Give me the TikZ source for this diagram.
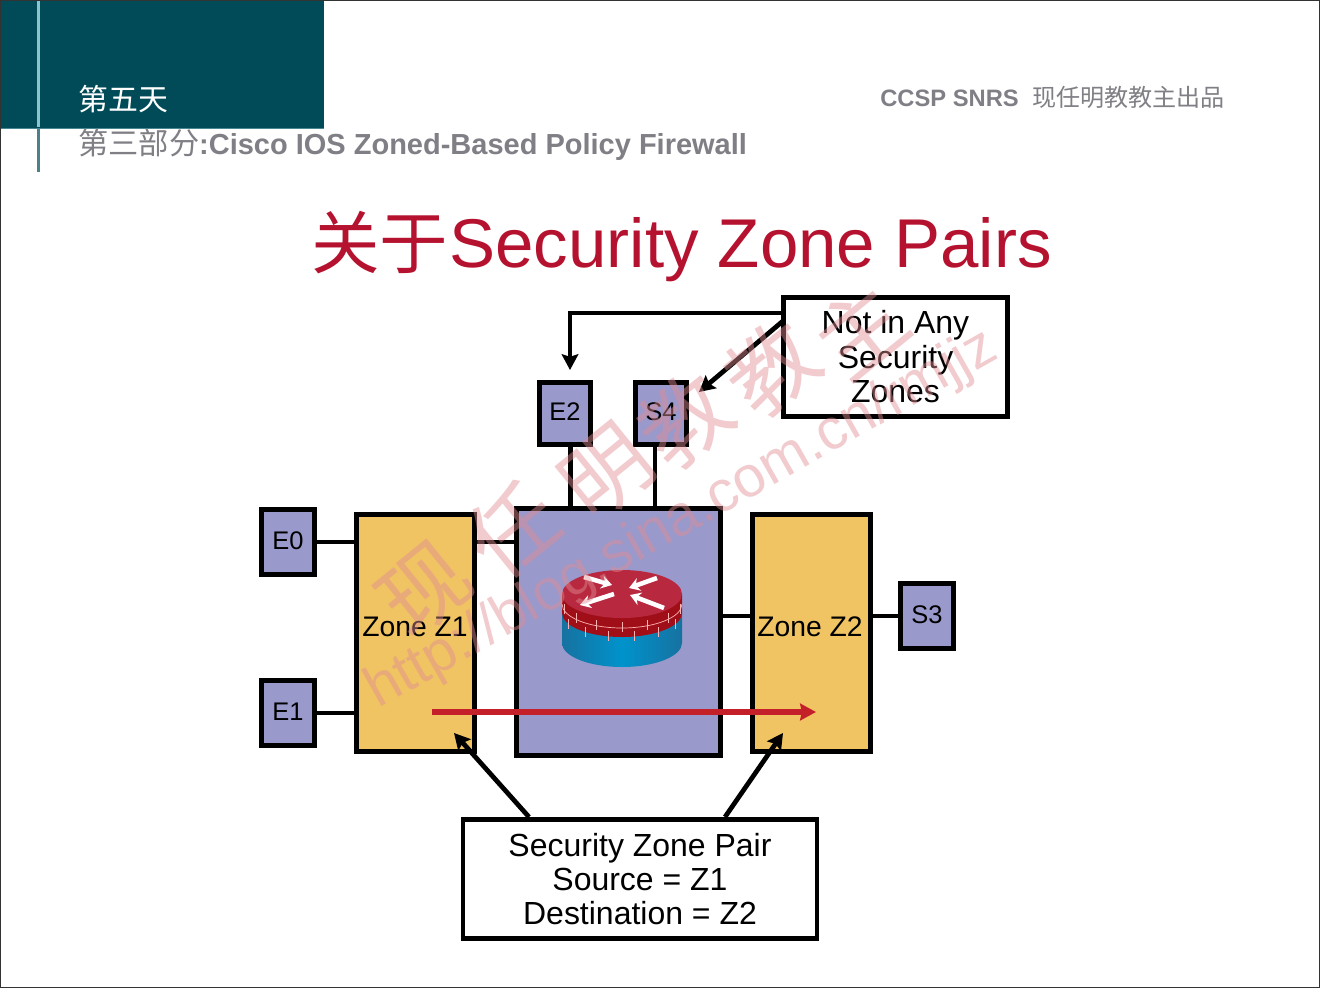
\documentclass[tikz,border=0pt]{standalone}
\usepackage{fontspec}
\setmainfont{Liberation Sans}
\newfontfamily\cjk{Noto Sans CJK SC}
\usetikzlibrary{arrows.meta,calc}
\definecolor{headteal}{HTML}{004B57}
\definecolor{headline}{HTML}{8CC4CC}
\definecolor{headgray}{HTML}{7F7F85}
\definecolor{titlered}{HTML}{B5122F}
\definecolor{portblue}{HTML}{9999CC}
\definecolor{zoneyellow}{HTML}{F0C463}
\definecolor{flowred}{HTML}{C4202A}
\definecolor{markpink}{HTML}{E08C92}
\definecolor{routertop}{HTML}{B8283F}
\definecolor{routerside}{HTML}{A00F18}
\definecolor{routerblue}{HTML}{0093CC}
\definecolor{routerdark}{HTML}{1672A0}
\tikzset{
  portbox/.style={draw=black, line width=2.8pt, fill=portblue, inner sep=0pt, text depth=2pt, font=\fontsize{14.5}{16}\selectfont},
  zonebox/.style={draw=black, line width=2.8pt, fill=zoneyellow, inner sep=0pt, minimum width=67pt, minimum height=134.5pt},
  notebox/.style={draw=black, line width=2.8pt, fill=white, inner sep=0pt, align=center, font=\fontsize{18.2}{19.6}\selectfont},
  wire/.style={line width=2.2pt},
  pointer/.style={line width=2.7pt, -{Stealth[length=9pt,width=9.5pt,inset=1.5pt]}},
  flowline/.style={flowred, line width=3pt, -{Stealth[length=9pt,width=9.5pt,inset=1pt]}},
  stampmark/.style={text=markpink, text opacity=.45, inner sep=0pt},
  stampcn/.style={stampmark, rotate=39, font=\cjk\fontsize{50}{52}\selectfont},
  brickline/.style={white!70!red, line width=.4pt},
  routerarrow/.style={white, line width=2.6pt, -{Stealth[length=6pt,width=7.5pt]}},
}
\begin{document}
\begin{tikzpicture}[x=0.02cm, y=-0.02cm]
  \useasboundingbox (0,0) rectangle (1320,988);
  \fill[white] (0,0) rectangle (1320,988);
  % header band
  \fill[headteal] (0,0) rectangle (324,128);
  \draw[headline!50!headteal, line width=.5pt] (0,128) -- (324,128);
  \draw[headline, line width=1.3pt] (38.5,0) -- (38.5,127);
  \draw[headteal!70!white, line width=1.3pt] (38.5,129) -- (38.5,172);
  \draw[black!80, line width=1.2pt] (0,0) rectangle (1320,988);
  \node[anchor=base west, inner sep=0pt, text=white, font=\cjk\fontsize{17}{19}\selectfont] (daytext) at (78,110) {第五天};
  \node[anchor=base west, inner sep=0pt, text=headgray, font=\bfseries\fontsize{16.5}{18}\selectfont] (parttext) at (78,154) {{\cjk\mdseries\fontsize{17.2}{18}\selectfont 第三部分}:Cisco IOS Zoned-Based Policy Firewall};
  \node[anchor=base west, inner sep=0pt, text=headgray, font=\bfseries\fontsize{13.5}{15}\selectfont] (brandtext) at (880,106) {CCSP SNRS};
  \node[anchor=base west, inner sep=0pt, text=headgray, font=\cjk\fontsize{13.7}{15}\selectfont] (makertext) at (1032,106) {现任明教教主出品};
  \node[anchor=base west, inner sep=0pt, text=titlered, font=\cjk\fontsize{39}{42}\selectfont] (titlecn) at (311,268) {关于};
  \node[anchor=base west, inner sep=0pt, text=titlered, font=\fontsize{39.3}{42}\selectfont] (titletext) at (449,267) {Security Zone Pairs};
  % interfaces and zones
  \node[portbox, minimum width=30pt, minimum height=37pt] (e0) at (288,542) {E0};
  \node[portbox, minimum width=30pt, minimum height=37pt] (e1) at (288,713) {E1};
  \node[portbox, minimum width=29.5pt, minimum height=35.5pt] (e2) at (565,413.5) {E2};
  \node[portbox, minimum width=29.5pt, minimum height=35.5pt] (s4) at (661,413.5) {S4};
  \node[portbox, minimum width=30pt, minimum height=37pt] (s3) at (927,616) {S3};
  \node[zonebox] (z1) at (415.5,633) {};
  \node[zonebox] (z2) at (811.5,633) {};
  \node[anchor=center, font=\fontsize{16.1}{17}\selectfont, inner sep=0pt] (z1label) at (415,627) {Zone Z1};
  \node[anchor=center, font=\fontsize{16.1}{17}\selectfont, inner sep=0pt] (z2label) at (810,627) {Zone Z2};
  \node[portbox, minimum width=116pt, minimum height=141pt] (fw) at (618.5,632) {};
  \draw[wire] (e0.east) -- (e0.east -| z1.west);
  \draw[wire] (e1.east) -- (e1.east -| z1.west);
  \draw[wire] (e0.east -| z1.east) -- (e0.east -| fw.west);
  \draw[wire] (s3.west -| fw.east) -- (s3.west -| z2.west);
  \draw[wire] (s3.west -| z2.east) -- (s3.west);
  \draw[wire, line width=2.7pt] ([xshift=3.2pt]e2.south) -- ([xshift=3.2pt]e2.south |- fw.north);
  \draw[wire, line width=2.7pt] ([xshift=-3.4pt]s4.south) -- ([xshift=-3.4pt]s4.south |- fw.north);
  % firewall router
  \shade[left color=routerdark, right color=routerdark, middle color=routerblue] (562,613) -- (562,643) arc (180:0:60 and 24) -- (682,613) -- cycle;
  \fill[routerside] (562,594) -- (562,613) arc (180:0:60 and 24) -- (682,594) -- cycle;
  \fill[routertop] (622,594) ellipse (60 and 24);
  \foreach \a in {15,40,65,90,115,140,165} {
    \draw[brickline] ($(622,598)+(\a:60 and 24)$) -- ++(0,10);
  }
  \foreach \a in {28,53,78,103,128,153} {
    \draw[brickline] ($(622,608)+(\a:60 and 24)$) -- ++(0,10);
  }
  \draw[brickline] (562,604) arc (180:0:60 and 24);
  \draw[routerarrow] (584,577) -- (612,585);
  \draw[routerarrow] (657,578) -- (629,588);
  \draw[routerarrow] (614,594) -- (580,605);
  \draw[routerarrow] (664,608) -- (630,595);
  \node[notebox, minimum width=128pt, minimum height=68pt] (note) at (895.5,357) {Not in Any\\Security\\Zones};
  \node[notebox, minimum width=201.5pt, minimum height=68pt] (pair) at (640,879) {Security Zone Pair\\Source = Z1\\Destination = Z2};
  % callout arrows
  \coordinate (notea) at (782,313);
  \coordinate (noteb) at (783,321);
  \coordinate (s4tip) at (699,392);
  \coordinate (e2tip) at (570,370);
  \coordinate (paira) at (529,817);
  \coordinate (pairb) at (725,817);
  \coordinate (z1tip) at (454,733);
  \coordinate (z2tip) at (783,733);
  \coordinate (flowa) at (432,712);
  \coordinate (flowb) at (816,712);
  \draw[pointer] (notea) -| (e2tip);
  \draw[pointer] (noteb) -- (s4tip);
  \draw[pointer] (paira) -- (z1tip);
  \draw[pointer] (pairb) -- (z2tip);
  \draw[flowline] (flowa) -- (flowb);
  % blog watermark
  \node[stampmark, rotate=29.5, font=\fontsize{32.8}{34}\selectfont] (blogmark) at (682,520) {http://blog.sina.com.cn/rmjjz};
  \node[stampcn] (mark1) at (425,590) {现};
  \node[stampcn] (mark2) at (513,530) {任};
  \node[stampcn] (mark3) at (607,473) {明};
  \node[stampcn] (mark4) at (685,420) {教};
  \node[stampcn] (mark5) at (772,368) {教};
  \node[stampcn] (mark6) at (860,330) {主};
\end{tikzpicture}
\end{document}
